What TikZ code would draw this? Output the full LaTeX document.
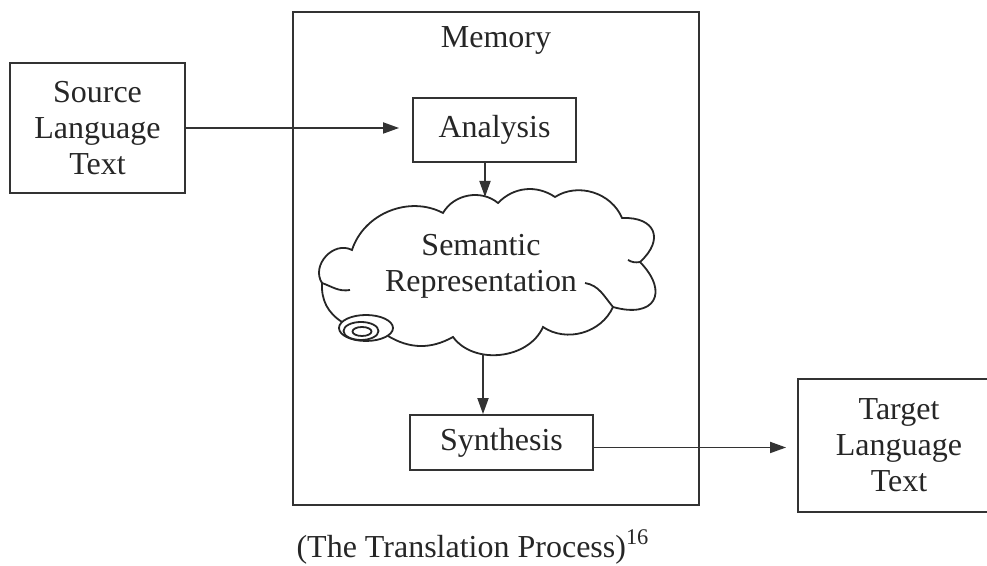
\documentclass[tikz,border=0pt]{standalone}
\usepackage{fontspec}
\setmainfont{Liberation Serif}
\usetikzlibrary{positioning,arrows.meta}

\begin{document}
\begin{tikzpicture}[
    x=0.5pt, y=0.5pt,
    every node/.style={font={\fontsize{16}{18}\selectfont}, text=black!85},
    box/.style={draw=black!80, line width=0.9pt, align=center, inner sep=0pt},
    flow/.style={draw=black!80, line width=0.9pt, -{Triangle[length=8pt,width=5.5pt]}},
    cloudline/.style={draw=black!85, line width=0.9pt},
  ]
  \useasboundingbox (0,0) rectangle (987,566);

  % memory frame
  \node[box, minimum width=203pt, minimum height=246.5pt] (memory) at (496,307.5) {};
  \node (memlab) at (496,526) {Memory};

  % outer boxes
  \node[box, minimum width=87.5pt, minimum height=65pt] (source) at (97.5,438) {Source\\Language\\Text};
  \node[box, minimum width=101pt, minimum height=66.5pt] (target) at (899,120.5) {Target\\Language\\Text};

  % inner boxes
  \node[box, minimum width=81.5pt, minimum height=32pt] (analysis) at (494.5,436) {Analysis};
  \node[box, minimum width=91.5pt, minimum height=27.5pt] (synthesis) at (501.5,123.5) {Synthesis};

  % cloud
  \foreach \n/\x/\y in {E0/342/244, A1/322/283, A2/352/316, T1/443/353, T2/498/363,
      T3/555/369, T4/622/348, R1/640/304, R2/613/259, B1/543/239, B2/453/229, E1/388/230} {
    \coordinate (\n) at (\x,\y);
  }
  \draw[cloudline] (E0) to[bend left=30] (A1) to[bend left=75, looseness=1.2] (A2)
    to[bend left=50] (T1) to[bend left=50] (T2) to[bend left=40] (T3) to[bend left=50] (T4)
    to[bend left=70, looseness=1.8] (R1) to[bend left=75, looseness=2.1] (R2)
    to[bend left=50] (B1) to[bend left=60] (B2) to[bend left=30] (E1);
  \draw[cloudline] (585,283) to[out=-10, in=130] (R2);
  \draw[cloudline] (A1) to[out=-20, in=190] (350,276);
  \draw[cloudline] (628,306) to[bend right=20] (R1);
  \draw[cloudline] (366,238) ellipse [x radius=27, y radius=13];
  \draw[cloudline] (361,235) ellipse [x radius=17.5, y radius=9];
  \draw[cloudline] (362,234.5) ellipse [x radius=9.5, y radius=4.5];
  \node[align=center] (sem) at (481,300) {Semantic\\Representation};
  \coordinate (ctop) at (485,369);
  \coordinate (cbot) at (483,212);

  % connectors
  \draw[flow, shorten >=6.5pt] (source.east) -- (source.east -| analysis.west);
  \draw[flow] (analysis.south -| ctop) -- (ctop);
  \draw[flow] (cbot) -- (cbot |- synthesis.north);
  \draw[flow, shorten >=5.5pt] ([yshift=-2.5pt]synthesis.east) -- ([yshift=-2.5pt]synthesis.east -| target.west);

  \node (caption) at (473,19) {(The Translation Process)\textsuperscript{16}};
\end{tikzpicture}
\end{document}
